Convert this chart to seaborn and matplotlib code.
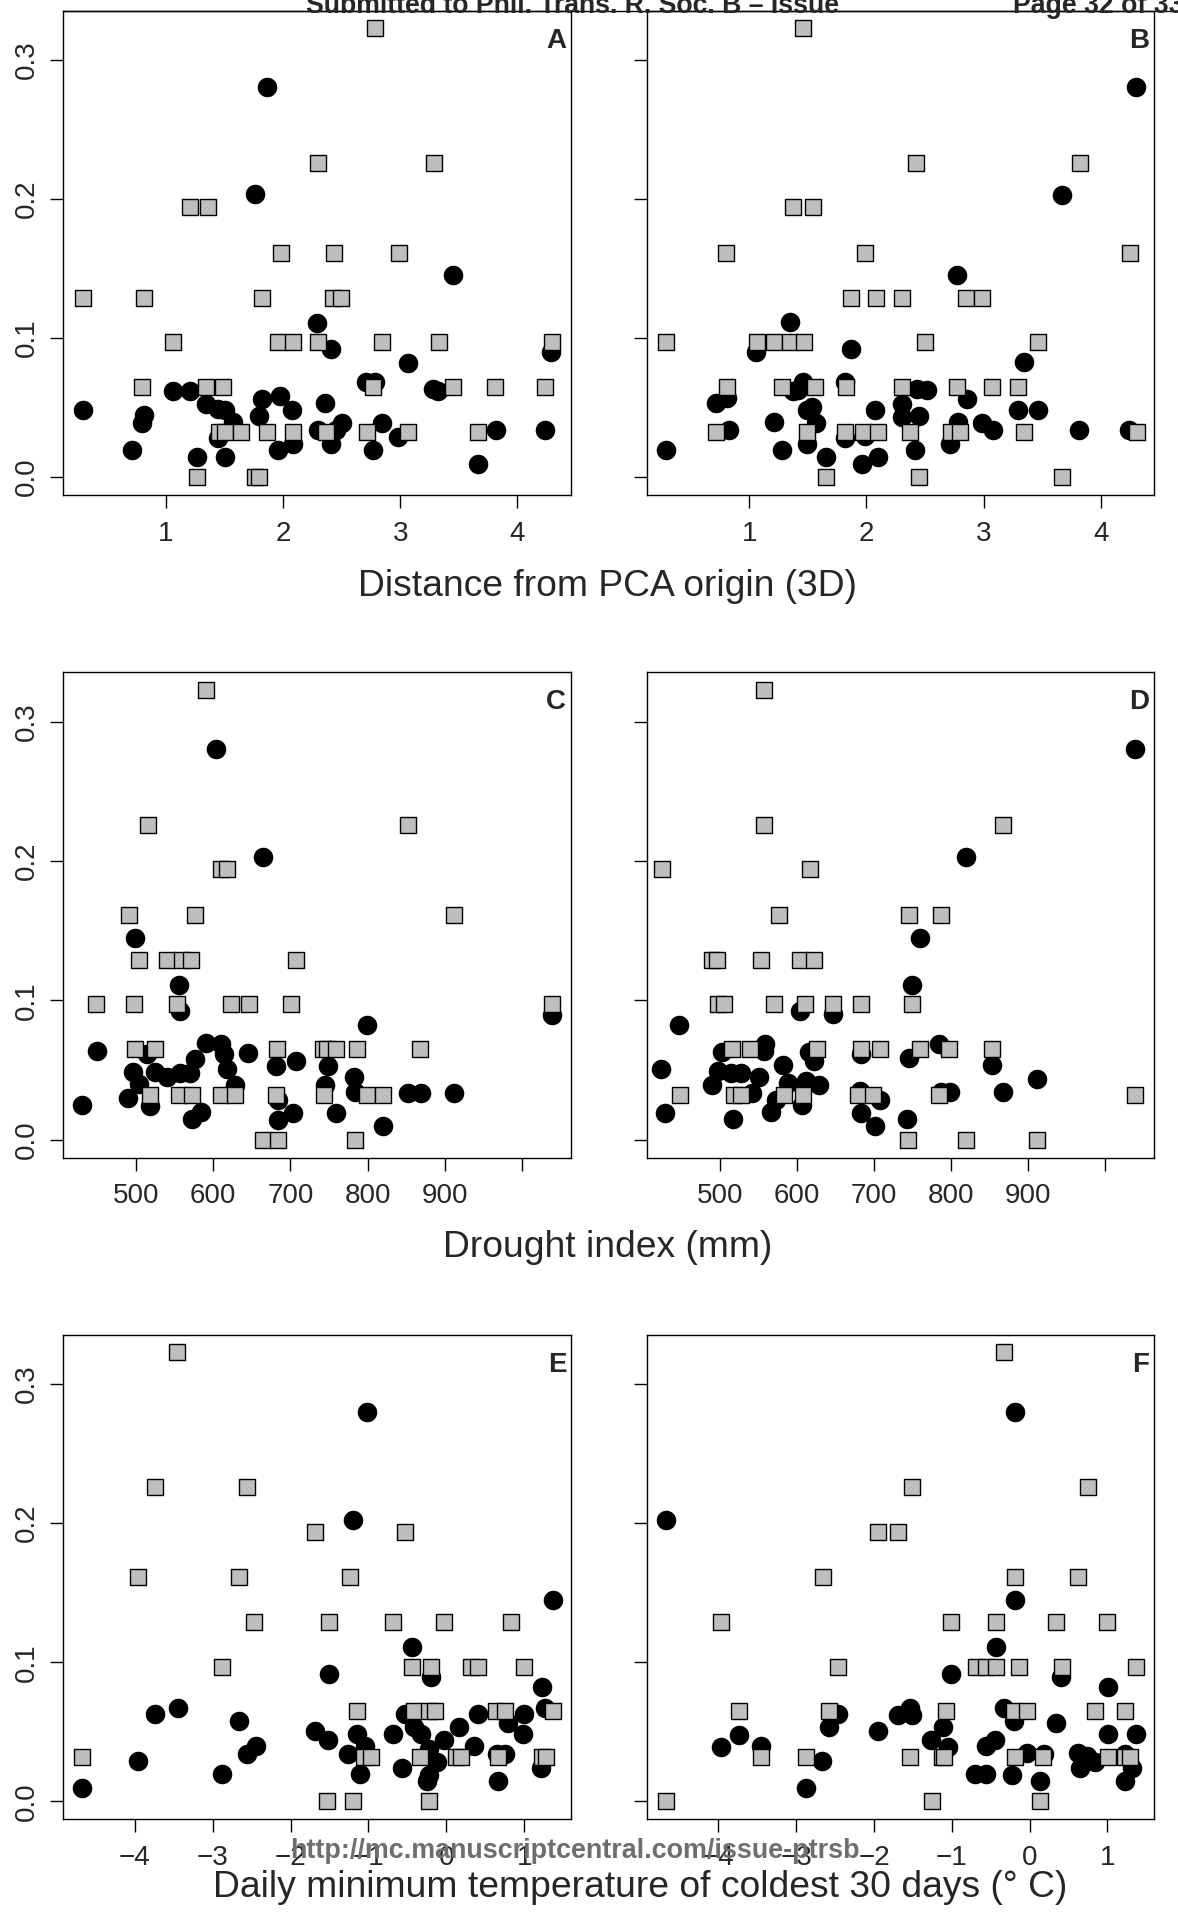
import matplotlib
matplotlib.use("Agg")
import matplotlib.pyplot as plt
import seaborn as sns
import pandas as pd
from matplotlib.lines import Line2D

sns.set_style("ticks")
plt.rcParams['font.family'] = ['Liberation Sans', 'DejaVu Sans']

# ---------------- data ----------------
# Panel A : x = distance from PCA origin
sqA_x = [2.785, 2.298, 3.292, 1.208, 1.362, 1.987, 2.436, 2.987, 0.295, 0.817, 1.824, 2.426, 2.5,
         1.064, 1.962, 2.09, 2.298, 2.849, 3.333, 4.295, 0.798, 1.346, 1.494, 2.772, 3.452, 3.811, 4.231,
         1.458, 1.506, 1.647, 1.865, 2.09, 2.372, 2.715, 3.067, 3.66, 1.272, 1.763, 1.80]
sqA_y = [0.323, 0.226, 0.226, 0.194, 0.194, 0.161, 0.161, 0.161, 0.129, 0.129, 0.129, 0.129, 0.129,
         0.097, 0.097, 0.097, 0.097, 0.097, 0.097, 0.097, 0.065, 0.065, 0.065, 0.065, 0.065, 0.065, 0.065,
         0.032, 0.032, 0.032, 0.032, 0.032, 0.032, 0.032, 0.032, 0.032, 0.0, 0.0, 0.0]
ciA_x = [1.865, 1.763, 3.452, 2.292, 2.41, 4.288, 3.067, 2.705, 2.785, 1.064, 1.208, 3.276, 3.324,
         1.346, 1.449, 1.507, 1.824, 1.978, 2.074, 2.362, 0.295, 0.817, 0.798, 1.801, 1.577, 2.506,
         2.849, 2.298, 2.452, 3.814, 4.231, 1.449, 2.978, 2.41, 2.09, 0.712, 1.962, 2.772, 1.266, 1.503, 3.66]
ciA_y = [0.2805, 0.2034, 0.145, 0.111, 0.092, 0.090, 0.0823, 0.068, 0.068, 0.062, 0.062, 0.0633, 0.062,
         0.0528, 0.049, 0.048, 0.0562, 0.0583, 0.0482, 0.0534, 0.0482, 0.0446, 0.039, 0.0438, 0.0396, 0.039,
         0.039, 0.0336, 0.0336, 0.0336, 0.0336, 0.028, 0.0286, 0.024, 0.024, 0.0193, 0.0193, 0.0193, 0.0143, 0.0143, 0.0096]

# Panel B
sqB_x = [1.462, 2.423, 3.824, 1.372, 1.548, 0.801, 1.987, 4.247, 1.869, 2.083, 2.301, 2.853, 2.99,
         0.288, 1.067, 1.212, 1.349, 1.468, 2.503, 3.462, 0.811, 1.276, 1.564, 1.827, 2.301, 2.776, 3.071, 3.295,
         0.721, 1.494, 1.821, 1.974, 2.103, 2.375, 2.718, 2.798, 3.343, 4.311, 1.654, 2.446, 3.673]
sqB_y = [0.323, 0.226, 0.226, 0.194, 0.194, 0.161, 0.161, 0.161, 0.129, 0.129, 0.129, 0.129, 0.129,
         0.097, 0.097, 0.097, 0.097, 0.097, 0.097, 0.097, 0.065, 0.065, 0.065, 0.065, 0.065, 0.065, 0.065, 0.065,
         0.032, 0.032, 0.032, 0.032, 0.032, 0.032, 0.032, 0.032, 0.032, 0.032, 0.0, 0.0, 0.0]
ciB_x = [4.304, 3.67, 2.776, 1.349, 1.869, 1.061, 3.343, 1.458, 1.821, 1.372, 1.42, 2.429, 2.516,
         0.811, 2.856, 0.721, 2.301, 1.532, 2.077, 1.494, 3.295, 3.462, 2.446, 2.301, 1.212, 1.571,
         2.782, 2.99, 0.827, 3.077, 3.817, 4.24, 1.987, 1.821, 1.494, 2.712, 0.288, 1.276, 2.413,
         1.654, 2.099, 1.965]
ciB_y = [0.2805, 0.2029, 0.145, 0.1112, 0.0919, 0.09, 0.0826, 0.068, 0.068, 0.0619, 0.0625, 0.0633, 0.0625,
         0.057, 0.0562, 0.0534, 0.0528, 0.0506, 0.0482, 0.0482, 0.0482, 0.0482, 0.0438, 0.0432, 0.0396, 0.039,
         0.0396, 0.039, 0.0336, 0.0336, 0.0336, 0.0336, 0.0295, 0.028, 0.0239, 0.0239, 0.0193, 0.0193, 0.0193,
         0.0143, 0.0143, 0.0096]

# Panel C : x = drought index (mm)
sqC_x = [590.6, 515.1, 852.3, 609.6, 618.4, 490.3, 577, 911.8, 503.9, 540.4, 560, 570.7, 707.1,
         447.9, 497.6, 553.6, 623.3, 646.2, 701.3, 1038.5, 499, 524.9, 683.2, 741.7, 747.6, 759.7, 786.5, 867.9,
         518.5, 555.1, 573.1, 609.6, 628.2, 681.8, 743.7, 798.7, 819.7, 664.7, 684.2, 784.1]
sqC_y = [0.323, 0.226, 0.226, 0.194, 0.194, 0.161, 0.161, 0.161, 0.129, 0.129, 0.129, 0.129, 0.129,
         0.097, 0.097, 0.097, 0.097, 0.097, 0.097, 0.097, 0.065, 0.065, 0.065, 0.065, 0.065, 0.065, 0.065, 0.065,
         0.032, 0.032, 0.032, 0.032, 0.032, 0.032, 0.032, 0.032, 0.032, 0.0, 0.0, 0.0]
ciC_x = [603.8, 664.7, 499, 555.1, 557.5, 1038.5, 798.7, 590.6, 610.1, 448.8, 645.2, 613.5, 513.6,
         577, 707.1, 681.8, 748.5, 617.4, 496.6, 524.4, 557.5, 569.7, 540.4, 783.1, 503.9, 628.2, 745.1,
         784.1, 852.3, 869.4, 911.8, 489.3, 684.2, 517.5, 429.8, 584.3, 703.7, 759.7, 572.1, 684.2, 820.7]
ciC_y = [0.2805, 0.2029, 0.145, 0.1112, 0.0922, 0.0892, 0.0823, 0.0694, 0.0685, 0.0633, 0.0619, 0.0611, 0.0611,
         0.0575, 0.0564, 0.0528, 0.0528, 0.0506, 0.0487, 0.0487, 0.0479, 0.0479, 0.0446, 0.0446, 0.0396, 0.0391, 0.0391,
         0.0341, 0.0336, 0.0336, 0.0336, 0.0295, 0.0281, 0.0239, 0.0245, 0.0198, 0.0193, 0.0193, 0.0149, 0.0143, 0.0096]

# Panel D
sqD_x = [557.8, 557.8, 867.6, 425, 617.6, 577.5, 745.1, 786.8, 490.2, 496.6, 552.9, 604.4, 622.5,
         497.5, 504.9, 570.1, 610.3, 647.1, 682.8, 750, 515.7, 539.2, 626.5, 682.8, 707.4, 759.8, 798, 852.9,
         448.5, 518.1, 527, 583.3, 607.8, 678.9, 699.5, 784.3, 1039.2, 744.1, 820.1, 911.8]
sqD_y = [0.323, 0.226, 0.226, 0.194, 0.194, 0.161, 0.161, 0.161, 0.129, 0.129, 0.129, 0.129, 0.129,
         0.097, 0.097, 0.097, 0.097, 0.097, 0.097, 0.097, 0.065, 0.065, 0.065, 0.065, 0.065, 0.065, 0.065, 0.065,
         0.032, 0.032, 0.032, 0.032, 0.032, 0.032, 0.032, 0.032, 0.032, 0.0, 0.0, 0.0]
ciD_x = [1039.2, 820.1, 759.8, 750, 604.4, 647.1, 447.5, 784.3, 558.8, 557.4, 502.5, 615.2, 683.8,
         745.1, 622.5, 581.9, 852.9, 424, 497.5, 514.7, 527, 551.5, 911.8, 490.2, 541.7, 588.2, 611.3,
         628.9, 681.4, 786.8, 799, 867.6, 708.3, 573.5, 606.4, 566.2, 428.9, 682.8, 517.2, 743.6, 701]
ciD_y = [0.2805, 0.2029, 0.145, 0.1112, 0.0922, 0.09, 0.0823, 0.0685, 0.0685, 0.0639, 0.0625, 0.0625, 0.0611,
         0.0584, 0.0562, 0.0537, 0.0534, 0.0506, 0.0493, 0.0479, 0.0479, 0.0446, 0.0438, 0.0391, 0.0336, 0.0405, 0.0418,
         0.0391, 0.035, 0.0341, 0.0341, 0.0341, 0.0281, 0.0281, 0.0248, 0.0198, 0.0193, 0.0193, 0.0149, 0.0149, 0.0096]

# Panel E : x = daily minimum temperature of coldest 30 days
sqE_x = [-3.454, -3.734, -2.56, -1.691, -0.531, -3.961, -2.657, -1.232, -2.464, -1.512, -0.686, -0.024, 0.836,
         -2.874, -0.435, -0.193, 0.314, 0.411, 1.0, -1.15, -0.411, -0.217, -0.145, 0.643, 0.749, 1.367,
         -4.671, -1.063, -0.966, -0.338, 0.13, 0.193, 0.662, 1.222, 1.28, -1.536, -1.198, -0.227]
sqE_y = [0.323, 0.226, 0.226, 0.194, 0.194, 0.161, 0.161, 0.161, 0.129, 0.129, 0.129, 0.129, 0.129,
         0.097, 0.097, 0.097, 0.097, 0.097, 0.097, 0.065, 0.065, 0.065, 0.065, 0.065, 0.065, 0.065,
         0.032, 0.032, 0.032, 0.032, 0.032, 0.032, 0.032, 0.032, 0.032, 0.0, 0.0, 0.0]
ciE_x = [-1.014, -1.198, 1.367, -0.435, -1.512, -0.193, 1.222, -3.444, 1.27, -3.734, -0.531, 0.401, 1.0,
         -2.667, -0.411, 0.159, 0.797, -1.691, -0.324, -1.145, -0.686, 0.99, -1.522, -0.024, -2.449, -1.048,
         0.353, -2.56, -1.256, -0.217, 0.652, 0.749, -3.961, -0.121, -0.565, 1.217, -2.874, -1.111, -0.217,
         -0.242, 0.662, -4.671]
ciE_y = [0.2797, 0.2022, 0.1447, 0.1111, 0.0917, 0.0897, 0.0822, 0.0675, 0.0675, 0.0628, 0.0628, 0.0628, 0.0628,
         0.0578, 0.0536, 0.0536, 0.0564, 0.0508, 0.0486, 0.0486, 0.0486, 0.0486, 0.0439, 0.0444, 0.0397, 0.0397,
         0.0397, 0.0342, 0.0342, 0.0375, 0.0342, 0.0342, 0.0292, 0.0286, 0.0244, 0.0239, 0.0197, 0.0197, 0.0189,
         0.0147, 0.0147, 0.0097]

# Panel F
sqF_x = [-0.333, -1.514, 0.752, -1.953, -1.697, -2.66, -0.188, 0.627, -3.973, -1.013, -0.434, 0.342, 0.993,
         -2.469, -0.685, -0.564, -0.429, -0.14, 0.415, 1.365, -3.732, -2.575, -1.08, -0.203, -0.034, 0.844, 1.22,
         -3.457, -2.879, -1.543, -1.133, -1.104, -0.188, 0.174, 1.003, 1.22, 1.292, -4.672, -1.249, 0.135]
sqF_y = [0.323, 0.226, 0.226, 0.194, 0.194, 0.161, 0.161, 0.161, 0.129, 0.129, 0.129, 0.129, 0.129,
         0.097, 0.097, 0.097, 0.097, 0.097, 0.097, 0.097, 0.065, 0.065, 0.065, 0.065, 0.065, 0.065, 0.065,
         0.032, 0.032, 0.032, 0.032, 0.032, 0.032, 0.032, 0.032, 0.032, 0.032, 0.0, 0.0, 0.0]
ciF_x = [-0.188, -4.677, -0.188, -0.429, -1.013, 0.4, 1.003, -1.543, -0.333, -2.469, -1.697, -1.514, -0.203,
         0.342, -2.575, -1.109, -1.953, -3.732, 1.003, 1.365, -0.444, -1.263, -3.457, -0.564, -3.973, -1.046,
         -0.034, 0.183, 0.617, 0.738, 1.22, -2.671, 0.844, 0.641, 1.316, -0.709, -0.564, -0.227, 0.135, 1.22, -2.879]
ciF_y = [0.2797, 0.2022, 0.1447, 0.1111, 0.0917, 0.0897, 0.0822, 0.0675, 0.0675, 0.0628, 0.0619, 0.0619, 0.0578,
         0.0564, 0.0536, 0.0536, 0.0508, 0.0481, 0.0486, 0.0486, 0.0439, 0.0439, 0.0397, 0.0397, 0.0389, 0.0389,
         0.0347, 0.0342, 0.0347, 0.0328, 0.0342, 0.0292, 0.0286, 0.0244, 0.0244, 0.0197, 0.0197, 0.0189, 0.0147,
         0.0147, 0.0097]

panel_letters = ["A", "B", "C", "D", "E", "F"]
y_ticks = [0.0, 0.1, 0.2, 0.3]
y_ticklabels = ["0.0", "0.1", "0.2", "0.3"]
xticks_row = [[1, 2, 3, 4], [500, 600, 700, 800, 900, 1000], [-4, -3, -2, -1, 0, 1]]
xticklabels_row = [["1", "2", "3", "4"], ["500", "600", "700", "800", "900", ""],
                   ["\u22124", "\u22123", "\u22122", "\u22121", "0", "1"]]
xlims_row = [(0.128, 4.458), (405.6, 1064.0), (-4.918, 1.603)]
xlabels_row = ["Distance from PCA origin (3D)", "Drought index (mm)",
               "Daily minimum temperature of coldest 30 days (\u00b0 C)"]
header_left = "Submitted to Phil. Trans. R. Soc. B \u2013 Issue"
header_right = "Page 32 of 33"
watermark = "http://mc.manuscriptcentral.com/issue-ptrsb"

panels = [(sqA_x, sqA_y, ciA_x, ciA_y), (sqB_x, sqB_y, ciB_x, ciB_y),
          (sqC_x, sqC_y, ciC_x, ciC_y), (sqD_x, sqD_y, ciD_x, ciD_y),
          (sqE_x, sqE_y, ciE_x, ciE_y), (sqF_x, sqF_y, ciF_x, ciF_y)]

# ---------------- layout ----------------
W, H = 1178, 1927
fig = plt.figure(figsize=(W / 100, H / 100), dpi=100)
fig.patch.set_facecolor("white")

cols = [(63.2, 571.2), (647.0, 1154.4)]
rows = [(10.7, 494.8), (672.2, 1157.5), (1334.7, 1819.4)]

TICK_FS = 20
for i, (sx, sy, cx, cy) in enumerate(panels):
    r, c = divmod(i, 2)
    x0, x1 = cols[c]
    y0, y1 = rows[r]
    ax = fig.add_axes([x0 / W, 1 - y1 / H, (x1 - x0) / W, (y1 - y0) / H])
    ax.set_facecolor("white")
    sns.scatterplot(x=cx, y=cy, ax=ax, marker="o", s=198, color="black",
                    linewidth=0, zorder=2, legend=False)
    sns.scatterplot(x=sx, y=sy, ax=ax, marker="s", s=122, color="#bebebe",
                    edgecolor="black", linewidth=1.0, zorder=3, legend=False)
    ax.set_xlim(*xlims_row[r])
    ax.set_ylim(-0.0129, 0.3355)
    ax.set_xticks(xticks_row[r])
    ax.set_xticklabels(xticklabels_row[r], fontsize=TICK_FS)
    ax.set_yticks(y_ticks)
    if c == 0:
        ax.set_yticklabels(y_ticklabels, fontsize=TICK_FS, rotation=90, va="center")
    else:
        ax.set_yticklabels([])
    ax.set_xlabel("")
    ax.set_ylabel("")
    for sp in ax.spines.values():
        sp.set_visible(True)
        sp.set_linewidth(1.0)
        sp.set_color("black")
    ax.tick_params(axis="both", direction="out", length=9.1, width=1.0, color="black")
    ax.tick_params(axis="x", pad=9.5)
    ax.tick_params(axis="y", pad=8.0)
    ax.text(1 - 5 / 508, 1 - 17 / 484, panel_letters[i], transform=ax.transAxes,
            ha="right", va="top", fontsize=20, fontweight="bold")

# x-axis labels (one per row, spanning both columns)
xlab_pos = [(607, 596), (608, 1257), (640, 1897)]
for (xc, yb), lab in zip(xlab_pos, xlabels_row):
    fig.text(xc / W, 1 - yb / H, lab, ha="center", va="baseline", fontsize=26.8)

# manuscript page header (cut at the top) and rule
fig.text(306 / W, 1 - 12.7 / H, header_left, ha="left", va="baseline",
         fontsize=19.2, fontweight="bold")
fig.text(1013 / W, 1 - 12.7 / H, header_right, ha="left", va="baseline",
         fontsize=19.2, fontweight="bold")
fig.add_artist(Line2D([63.2 / W, 1.0], [1 - 10.9 / H, 1 - 10.9 / H], color="black",
                      linewidth=1.0, transform=fig.transFigure))

# watermark
fig.text(290 / W, 1 - 1858 / H, watermark, ha="left", va="baseline",
         fontsize=19.4, fontweight="bold", color="#6e6e6e")

fig.savefig("out.png", dpi=100, facecolor="white")
